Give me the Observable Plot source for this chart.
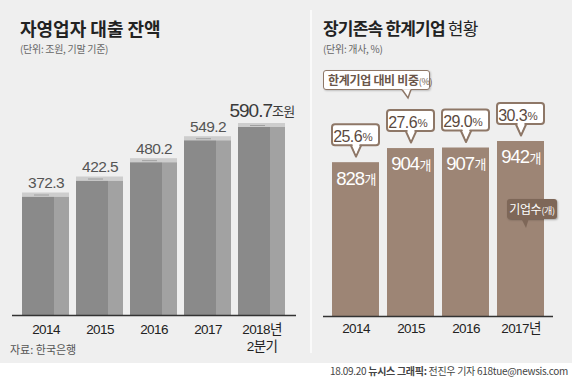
<!DOCTYPE html>
<html><head><meta charset="utf-8">
<script src="https://cdn.jsdelivr.net/npm/d3@7"></script>
<script src="https://cdn.jsdelivr.net/npm/@observablehq/plot@0.6"></script>
<style>
body{margin:0;background:#fff;}
#wrap{position:relative;width:572px;height:377px;background:#fff;overflow:hidden;font-family:"Noto Sans CJK KR",sans-serif;}
#bg{position:absolute;left:0;top:0;width:572px;height:363px;background:#efefef;}
.abs{position:absolute;white-space:nowrap;}
.title{font-size:18px;font-weight:700;color:#222;line-height:1;}
.sub{font-size:10px;color:#666;line-height:1;letter-spacing:-0.3px;}
#divider{position:absolute;left:310px;top:10px;width:2px;height:343px;background:#fafafa;}
.plotbox{position:absolute;top:0;}
.plotbox svg text{letter-spacing:-0.6px;}
.plotbox svg .big text{letter-spacing:-1px;}
</style></head>
<body>
<div id="wrap">
  <div id="bg"></div>
  <div id="divider"></div>
  <div class="abs title" style="left:20px;top:19px;">자영업자 대출 잔액</div>
  <div class="abs sub" style="left:20px;top:44px;">(단위: 조원, 기말 기준)</div>
  <div class="abs title" style="left:323px;top:19px;font-size:17px;letter-spacing:-0.8px;">장기존속 한계기업 <span style="font-weight:400">현황</span></div>
  <div class="abs sub" style="left:323px;top:44px;">(단위: 개사, %)</div>
  <div id="left" class="plotbox" style="left:0;"></div>
  <div id="right" class="plotbox" style="left:310px;"></div>
  <div class="abs" style="left:10px;top:343px;font-size:11px;line-height:1.2;color:#555;">자료: 한국은행</div>
  <div class="abs" style="left:323px;top:70px;width:101px;height:18px;border:1.5px solid #8e7767;border-radius:3px;background:#fff;box-shadow:1px 1px 2px rgba(0,0,0,0.2);font-size:12px;font-weight:700;color:#6b5649;line-height:18px;padding-left:4px;box-sizing:content-box;letter-spacing:-0.3px;">한계기업 대비 비중<span style="font-size:9px;font-weight:400">(%)</span></div>
  <svg class="abs" style="left:398px;top:87px;" width="20" height="14"><path d="M4,2.5 L10,11 L13,2.5" fill="#fff" stroke="#8e7767" stroke-width="1.5"/><rect x="4.5" y="0" width="8" height="2.6" fill="#fff"/></svg>
  <div class="abs" style="left:507px;top:199px;width:50px;height:20px;border-radius:3px;background:#7e6758;box-shadow:1px 1px 2px rgba(0,0,0,0.3);font-size:12px;color:#fff;line-height:20px;text-align:center;letter-spacing:-0.3px;">기업수<span style="font-size:9px">(개)</span></div>
  <svg class="abs" style="left:518px;top:218px;" width="16" height="12"><path d="M3,0 L8,10 L11,0 Z" fill="#7e6758"/></svg>
  <div class="abs" style="right:4px;top:365px;font-size:10px;line-height:11px;color:#444;letter-spacing:-0.3px;">18.09.20 <b>뉴시스 그래픽:</b> 전진우 기자 618tue@newsis.com</div>
</div>
<script>
// ---- data ----
const loanYears = ["2014", "2015", "2016", "2017", "2018"];
const loanValues = [372.3, 422.5, 480.2, 549.2, 590.7];
const loanTickLabels = ["2014", "2015", "2016", "2017", "2018년\n2분기"];
const loanUnit = "조원";

const firmYears = ["2014", "2015", "2016", "2017"];
const firmCounts = [828, 904, 907, 942];
const firmShares = [25.6, 27.6, 29.0, 30.3];
const firmTickLabels = ["2014", "2015", "2016", "2017년"];
const firmUnit = "개";

const numFont = "'Liberation Sans',Arial,'Noto Sans CJK KR',sans-serif";
const krFont = "'Noto Sans CJK KR',sans-serif";

// ---- left chart ----
const loans = loanYears.map((y, i) => ({year: y, value: loanValues[i], last: i === loanYears.length - 1}));
const leftPlot = Plot.plot({
  width: 310, height: 363,
  marginLeft: 12, marginRight: 14, marginTop: 0, marginBottom: 48,
  style: {background: "transparent", fontFamily: numFont, overflow: "visible"},
  x: {domain: loanYears, range: [17.25, 289.75], paddingInner: 0.1376, paddingOuter: 0.0688, label: null},
  y: {domain: [0, 590.7], range: [315, 127], axis: null},
  marks: [
    Plot.barY(loans, {x: "year", y: "value", fill: "#8a8a8a", insetRight: 15}),
    Plot.barY(loans, {x: "year", y: "value", fill: "#a2a2a2", insetLeft: 32}),
    Plot.barY(loans, {x: "year", y1: "value", y2: "value", fill: "#cdcdcd", insetTop: -4, insetBottom: 0}),
    Plot.barY(loans, {x: "year", y1: "value", y2: "value", fill: "#a0a0a0", insetTop: -2, insetBottom: 1, insetLeft: 12, insetRight: 20}),
    Plot.ruleY([0], {stroke: "#333", strokeWidth: 1.5}),
    Plot.text(loans, {filter: d => !d.last, x: "year", y: "value", text: d => d.value.toFixed(1), dy: -14, fontSize: 15.5, fill: "#555"}),
    Plot.text(loans, {filter: d => d.last, x: "year", y: "value", text: d => d.value.toFixed(1), textAnchor: "end", dx: 10, dy: -17, fontSize: 19, fill: "#3a3a3a", className: "big"}),
    Plot.text(loans, {filter: d => d.last, x: "year", y: "value", text: () => loanUnit, textAnchor: "start", dx: 10, dy: -16, fontSize: 13, fill: "#3a3a3a", fontFamily: krFont}),
    Plot.axisX({tickSize: 0, tickPadding: 7, fontSize: 13.5, lineHeight: 1.25, tickFormat: d => loanTickLabels[loanYears.indexOf(d)], fill: "#222", label: null})
  ]
});
document.getElementById("left").append(leftPlot);

// ---- right chart ----
const firms = firmYears.map((y, i) => ({year: y, count: firmCounts[i], share: firmShares[i]}));
const boxStroke = "#8e7767";
const rightPlot = Plot.plot({
  width: 262, height: 363,
  marginLeft: 13, marginRight: 19, marginTop: 0, marginBottom: 47,
  style: {background: "transparent", fontFamily: numFont, overflow: "visible"},
  x: {domain: firmYears, range: [16.9, 239.6], paddingInner: 0.147, paddingOuter: 0.0735, label: null},
  y: {domain: [0, 942], range: [316, 141], axis: null},
  marks: [
    Plot.barY(firms, {x: "year", y: "count", fill: "#9d8575"}),
    Plot.ruleY([0], {stroke: "#333", strokeWidth: 1.5}),
    Plot.text(firms, {x: "year", y: "count", text: d => String(d.count), textAnchor: "end", dx: 8, dy: 16, fontSize: 18.5, fill: "#fff", className: "big"}),
    Plot.text(firms, {x: "year", y: "count", text: () => firmUnit, textAnchor: "start", dx: 8.5, dy: 17, fontSize: 13, fill: "#fff", fontFamily: krFont}),
    // callout boxes
    Plot.barY(firms, {x: "year", y1: "count", y2: "count", insetTop: -38, insetBottom: 17, fill: "#fff", stroke: boxStroke, strokeWidth: 2, rx: 3}),
    Plot.vector(firms, {x: "year", y: "count", dy: -17, length: 11, rotate: 180, shape: "spike", r: 5, anchor: "start", fill: "#fff", stroke: boxStroke, strokeWidth: 2}),
    Plot.vector(firms, {x: "year", y: "count", dy: -19, length: 10, rotate: 180, shape: "spike", r: 3.8, anchor: "start", fill: "#fff", stroke: "none"}),
    Plot.text(firms, {x: "year", y: "count", text: d => d.share.toFixed(1), textAnchor: "end", dx: 6, dy: -26, fontSize: 16, fill: "#5b4a3f"}),
    Plot.text(firms, {x: "year", y: "count", text: () => "%", textAnchor: "start", dx: 6.5, dy: -25.5, fontSize: 11.5, fill: "#5b4a3f"}),
    Plot.axisX({tickSize: 0, tickPadding: 7, fontSize: 13.5, tickFormat: d => firmTickLabels[firmYears.indexOf(d)], fill: "#222", label: null})
  ]
});
document.getElementById("right").append(rightPlot);
</script>
</body></html>
